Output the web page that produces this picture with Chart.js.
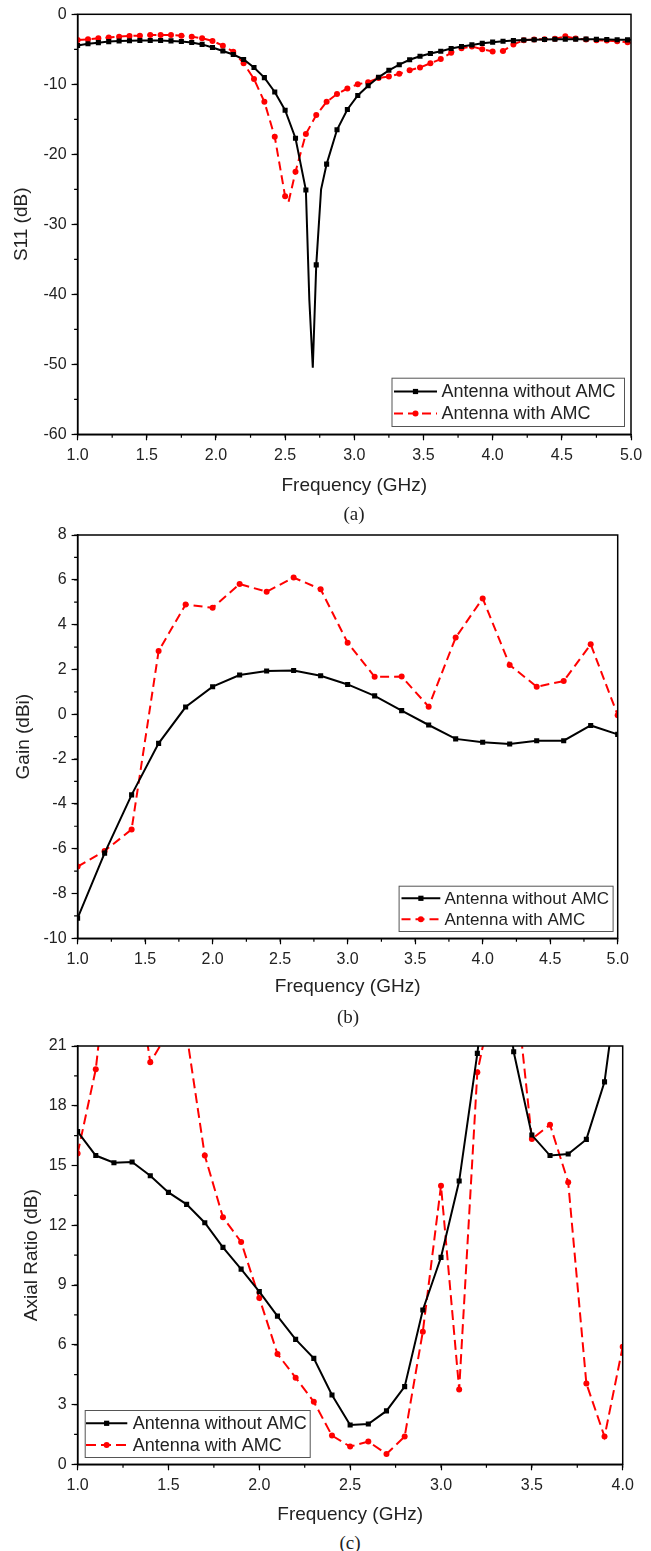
<!DOCTYPE html>
<html>
<head>
<meta charset="utf-8">
<script src="https://cdn.jsdelivr.net/npm/chart.js@4.4.0/dist/chart.umd.min.js"></script>
<style>
    body { margin: 0; background: #fff; }
    #page { position: relative; width: 651px; height: 1551px; overflow: hidden; }
    #page canvas { position: absolute; left: 0; }
    .caption {
        position: absolute;
        font-family: "Liberation Serif", "DejaVu Serif", serif;
        font-size: 19px;
        color: #222;
        transform: translate(-50%, -50%);
        white-space: nowrap;
    }
</style>
</head>
<body>
<div id="page">
    <canvas id="s11Chart" width="651" height="500" style="top:0px"></canvas>
    <canvas id="gainChart" width="651" height="490" style="top:510px"></canvas>
    <canvas id="arChart" width="651" height="510" style="top:1020px"></canvas>
    <div class="caption" style="left:354px; top:514px">(a)</div>
    <div class="caption" style="left:348px; top:1017px">(b)</div>
    <div class="caption" style="left:350px; top:1543px">(c)</div>
</div>
<script>
const legendLabels = ['Antenna without AMC', 'Antenna with AMC'];

// (a) S11 - marker positions
const s11Freq = [
    1.000, 1.075, 1.150, 1.225, 1.300, 1.375, 1.450, 1.525, 1.600, 1.675,
    1.750, 1.825, 1.900, 1.975, 2.050, 2.125, 2.200, 2.275, 2.350, 2.425,
    2.500, 2.575, 2.650, 2.725, 2.800, 2.875, 2.950, 3.025, 3.100, 3.175,
    3.250, 3.325, 3.400, 3.475, 3.550, 3.625, 3.700, 3.775, 3.850, 3.925,
    4.000, 4.075, 4.150, 4.225, 4.300, 4.375, 4.450, 4.525, 4.600, 4.675,
    4.750, 4.825, 4.900, 4.975
];
const s11NoAmc = [
    -4.45, -4.2, -4.05, -3.9, -3.82, -3.78, -3.75, -3.75, -3.75, -3.8,
    -3.88, -4.02, -4.3, -4.75, -5.25, -5.75, -6.45, -7.6, -9.05, -11.1,
    -13.7, -17.7, -25.1, -35.8, -21.4, -16.5, -13.6, -11.6, -10.2, -9.0,
    -8.0, -7.2, -6.5, -6.0, -5.6, -5.28, -4.88, -4.6, -4.37, -4.15,
    -3.98, -3.86, -3.76, -3.68, -3.63, -3.6, -3.56, -3.55, -3.55, -3.55,
    -3.58, -3.6, -3.63, -3.65
];
const s11Amc = [
    -3.67, -3.57, -3.43, -3.33, -3.19, -3.1, -3.05, -2.96, -2.96, -2.96,
    -3.05, -3.19, -3.43, -3.81, -4.48, -5.34, -7.0, -9.24, -12.5, -17.5,
    -26.0, -22.5, -17.1, -14.4, -12.5, -11.4, -10.6, -10.0, -9.7, -9.1,
    -8.9, -8.5, -8.0, -7.6, -7.0, -6.4, -5.5, -4.85, -4.6, -5.0,
    -5.3, -5.25, -4.3, -3.7, -3.6, -3.55, -3.5, -3.15, -3.45, -3.6,
    -3.7, -3.75, -3.85, -4.0
];
// curve points between markers (no symbol)
const s11NoAmcExtraFreq = [2.675, 2.700, 2.760, 5.000];
const s11NoAmcExtra = [-40.8, -50.5, -25.0, -3.65];
const s11AmcExtraFreq = [2.525, 5.000];
const s11AmcExtra = [-26.8, -4.05];

// (b) Gain
const gainFreq = [1.0, 1.2, 1.4, 1.6, 1.8, 2.0, 2.2, 2.4, 2.6, 2.8, 3.0, 3.2, 3.4, 3.6, 3.8, 4.0, 4.2, 4.4, 4.6, 4.8, 5.0];
const gainNoAmc = [-9.1, -6.2, -3.6, -1.3, 0.32, 1.23, 1.75, 1.93, 1.95, 1.72, 1.33, 0.82, 0.16, -0.48, -1.1, -1.25, -1.33, -1.18, -1.18, -0.5, -0.9];
const gainAmc = [-6.8, -6.1, -5.14, 2.82, 4.9, 4.75, 5.81, 5.47, 6.1, 5.58, 3.19, 1.67, 1.68, 0.34, 3.42, 5.17, 2.2, 1.23, 1.48, 3.12, -0.04];

// (c) Axial ratio
const arFreq = [
    1.0, 1.1, 1.2, 1.3, 1.4, 1.5, 1.6, 1.7, 1.8, 1.9, 2.0, 2.1, 2.2, 2.3, 2.4, 2.5,
    2.6, 2.7, 2.8, 2.9, 3.0, 3.1, 3.2, 3.3, 3.4, 3.5, 3.6, 3.7, 3.8, 3.9, 4.0
];
const arNoAmc = [
    16.7, 15.5, 15.14, 15.18, 14.49, 13.65, 13.05, 12.13, 10.89, 9.8, 8.67, 7.44, 6.27, 5.32, 3.48, 1.97,
    2.02, 2.68, 3.9, 7.75, 10.39, 14.22, 20.63, 28, 20.71, 16.53, 15.5, 15.58, 16.31, 19.2, 26
];
const arAmc = [
    15.6, 19.83, 28, 26.3, 20.18, 21.7, 21.6, 15.5, 12.4, 11.16, 8.35, 5.54, 4.35, 3.14, 1.44, 0.89,
    1.14, 0.52, 1.39, 6.66, 13.99, 3.76, 19.68, 24, 25, 16.33, 17.05, 14.16, 4.06, 1.39, 5.9
];

const SANS = '"Liberation Sans", Arial, sans-serif';
const TEXT = '#222';

function points(freq, vals, extraFreq = [], extraVals = []) {
    const pts = freq.map((f, i) => ({ x: f, y: vals[i], mark: true }));
    extraFreq.forEach((f, i) => pts.push({ x: f, y: extraVals[i], mark: false }));
    return pts.sort((a, b) => a.x - b.x);
}

function markerRadius(r) {
    return c => (c.raw && c.raw.mark === false ? 0 : r);
}

function withoutAmc(data) {
    return {
        label: legendLabels[0],
        data,
        borderColor: '#000',
        backgroundColor: '#000',
        borderWidth: 2,
        pointStyle: 'rect',
        pointRadius: markerRadius(3.6),
        pointBackgroundColor: '#000',
        pointBorderWidth: 0,
        tension: 0
    };
}

function withAmc(data, dash) {
    return {
        label: legendLabels[1],
        data,
        borderColor: '#ff0000',
        backgroundColor: '#ff0000',
        borderWidth: 2,
        borderDash: dash,
        pointStyle: 'circle',
        pointRadius: markerRadius(3),
        pointBackgroundColor: '#ff0000',
        pointBorderWidth: 0,
        tension: 0
    };
}

// box around the plot, minor ticks and the legend box
const framePlugin = {
    id: 'frame',
    afterDatasetsDraw(chart, args, opts) {
        const { ctx, chartArea: a, scales: { x, y } } = chart;
        ctx.save();
        ctx.strokeStyle = '#000';
        ctx.lineWidth = 1.2;
        ctx.beginPath();
        const nx = Math.round((x.max - x.min) / opts.xMinor);
        for (let i = 0; i <= nx; i++) {
            const px = x.getPixelForValue(x.min + i * opts.xMinor);
            ctx.moveTo(px, a.bottom);
            ctx.lineTo(px, a.bottom + 3.5);
        }
        const ny = Math.round((y.max - y.min) / opts.yMinor);
        for (let i = 0; i <= ny; i++) {
            const py = y.getPixelForValue(y.min + i * opts.yMinor);
            ctx.moveTo(a.left, py);
            ctx.lineTo(a.left - 3.5, py);
        }
        ctx.stroke();

        ctx.lineWidth = 1.5;
        ctx.strokeRect(a.left, a.top, a.right - a.left, a.bottom - a.top);

        // legend
        const L = opts.legend;
        ctx.fillStyle = '#fff';
        ctx.fillRect(L.x, L.y, L.w, L.h);
        ctx.strokeStyle = '#555';
        ctx.lineWidth = 1;
        ctx.strokeRect(L.x + 0.5, L.y + 0.5, L.w, L.h);
        chart.data.datasets.forEach((ds, i) => {
            const ry = L.rows[i];
            ctx.strokeStyle = ds.borderColor;
            ctx.lineWidth = ds.borderWidth;
            ctx.setLineDash(ds.borderDash || []);
            ctx.beginPath();
            ctx.moveTo(L.x0, ry);
            ctx.lineTo(L.x1, ry);
            ctx.stroke();
            ctx.setLineDash([]);
            const cx = (L.x0 + L.x1) / 2;
            ctx.fillStyle = ds.pointBackgroundColor;
            if (ds.pointStyle === 'rect') {
                ctx.fillRect(cx - 2.6, ry - 2.6, 5.2, 5.2);
            } else {
                ctx.beginPath();
                ctx.arc(cx, ry, 3, 0, Math.PI * 2);
                ctx.fill();
            }
            ctx.fillStyle = TEXT;
            ctx.font = L.font + 'px ' + SANS;
            ctx.textBaseline = 'middle';
            ctx.textAlign = 'left';
            ctx.fillText(ds.label, L.tx, ry + 1);
        });
        ctx.restore();
    }
};

function makeChart(id, o) {
    return new Chart(document.getElementById(id), {
        type: 'line',
        data: { datasets: o.datasets },
        options: {
            responsive: false,
            animation: false,
            layout: { padding: o.padding },
            plugins: {
                legend: { display: false },
                tooltip: { enabled: false },
                frame: o.frame
            },
            scales: {
                x: {
                    type: 'linear',
                    min: o.xMin,
                    max: o.xMax,
                    border: { display: true, color: '#000', width: 1.5 },
                    grid: { drawOnChartArea: false, drawTicks: true, tickLength: 6, tickColor: '#000', tickWidth: 1.2 },
                    ticks: {
                        stepSize: o.xStep,
                        padding: 6,
                        color: TEXT,
                        font: { family: SANS, size: 16 },
                        maxRotation: 0,
                        autoSkip: false,
                        callback: v => v.toFixed(1)
                    },
                    title: {
                        display: true,
                        text: 'Frequency (GHz)',
                        color: TEXT,
                        font: { family: SANS, size: 19 },
                        padding: { top: 0, bottom: o.xTitlePad }
                    },
                    afterFit: s => { s.height = o.xHeight; s.paddingLeft = 0; s.paddingRight = 0; }
                },
                y: {
                    type: 'linear',
                    min: o.yMin,
                    max: o.yMax,
                    border: { display: true, color: '#000', width: 1.5 },
                    grid: { drawOnChartArea: false, drawTicks: true, tickLength: 6, tickColor: '#000', tickWidth: 1.2 },
                    ticks: {
                        stepSize: o.yStep,
                        padding: 5,
                        color: TEXT,
                        font: { family: SANS, size: 16 },
                        callback: v => String(v)
                    },
                    title: {
                        display: true,
                        text: o.yTitle,
                        color: TEXT,
                        font: { family: SANS, size: 19 },
                        padding: { top: o.yTitlePad, bottom: 0 }
                    },
                    afterFit: s => { s.width = 77.6; s.paddingTop = 0; s.paddingBottom = 0; }
                }
            }
        },
        plugins: [framePlugin]
    });
}

makeChart('s11Chart', {
    datasets: [
        withoutAmc(points(s11Freq, s11NoAmc, s11NoAmcExtraFreq, s11NoAmcExtra)),
        withAmc(points(s11Freq, s11Amc, s11AmcExtraFreq, s11AmcExtra), [9, 5])
    ],
    padding: { top: 14.3, right: 20, bottom: 0, left: 0 },
    xMin: 1, xMax: 5, xStep: 0.5,
    yMin: -60, yMax: 0, yStep: 10,
    yTitle: 'S11 (dB)', yTitlePad: 10.6,
    xHeight: 65.7, xTitlePad: 3.1,
    frame: {
        xMinor: 0.25, yMinor: 5,
        legend: { x: 391.5, y: 377.7, w: 232.5, h: 48.3, x0: 394, x1: 437, tx: 441.5, rows: [391.5, 413.5], font: 18 }
    }
});

makeChart('gainChart', {
    datasets: [
        withoutAmc(points(gainFreq, gainNoAmc)),
        withAmc(points(gainFreq, gainAmc), [9, 5])
    ],
    padding: { top: 25, right: 33.3, bottom: 0, left: 0 },
    xMin: 1, xMax: 5, xStep: 0.5,
    yMin: -10, yMax: 8, yStep: 2,
    yTitle: 'Gain (dBi)', yTitlePad: 12.6,
    xHeight: 61.7, xTitlePad: 2.1,
    frame: {
        xMinor: 0.25, yMinor: 1,
        legend: { x: 398.6, y: 375.7, w: 214, h: 45.3, x0: 401.5, x1: 440.3, tx: 444.5, rows: [388.3, 409.3], font: 17 }
    }
});

makeChart('arChart', {
    datasets: [
        withoutAmc(points(arFreq, arNoAmc)),
        withAmc(points(arFreq, arAmc), [10, 5])
    ],
    padding: { top: 26, right: 28.3, bottom: 0, left: 0 },
    xMin: 1, xMax: 4, xStep: 0.5,
    yMin: 0, yMax: 21, yStep: 3,
    yTitle: 'Axial Ratio (dB)', yTitlePad: 20.6,
    xHeight: 65.7, xTitlePad: 4.1,
    frame: {
        xMinor: 0.25, yMinor: 1.5,
        legend: { x: 84.7, y: 390, w: 225, h: 47, x0: 86, x1: 127.3, tx: 132.7, rows: [403.3, 425], font: 18 }
    }
});
</script>
</body>
</html>
